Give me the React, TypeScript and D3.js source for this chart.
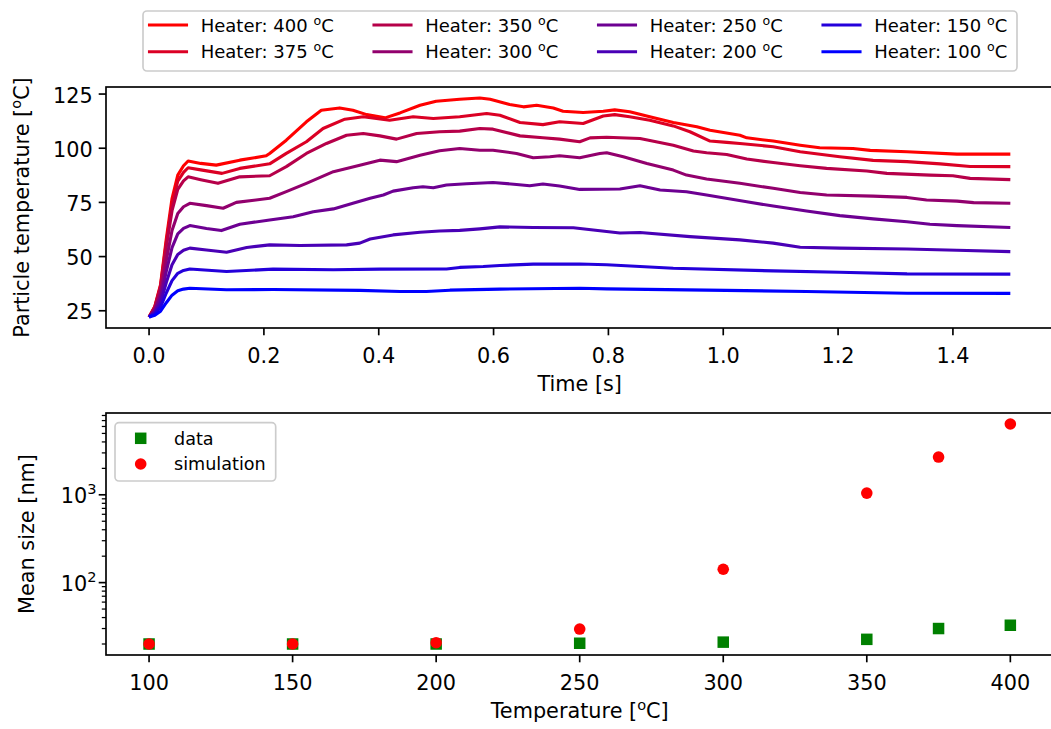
import React from 'react';
import * as d3 from 'd3';

type Pt = [number, number];

const heaterLabels = ['400', '375', '350', '300', '250', '200', '150', '100'];
const heaterColors = ['#ff0000', '#db0024', '#b60049', '#92006d', '#6d0092', '#4900b6', '#2400db', '#0000ff'];

const heater400: Pt[] = [[0,22.1],[0.01,27.0],[0.02,37.1],[0.03,58.1],[0.04,76.8],[0.05,87.6],[0.06,91.9],[0.068,94.1],[0.09,93.0],[0.117,92.2],[0.158,94.5],[0.204,96.5],[0.21,97.6],[0.239,103.7],[0.274,112.2],[0.30,117.5],[0.332,118.6],[0.355,117.5],[0.379,115.5],[0.411,114.0],[0.437,116.3],[0.472,119.8],[0.50,121.7],[0.541,122.6],[0.576,123.2],[0.594,122.6],[0.628,120.2],[0.652,119.1],[0.675,119.8],[0.704,118.6],[0.721,117.1],[0.756,116.5],[0.791,117.1],[0.811,117.7],[0.837,116.8],[0.872,114.5],[0.913,111.9],[0.954,109.9],[0.977,108.3],[1.029,106.0],[1.041,104.8],[1.087,103.3],[1.134,101.4],[1.168,100.2],[1.226,99.9],[1.256,99.0],[1.32,98.4],[1.407,97.3],[1.5,97.3]];
const heater375: Pt[] = [[0,22.1],[0.01,26.8],[0.02,36.5],[0.03,56.5],[0.04,74.4],[0.05,84.8],[0.06,88.9],[0.068,91.0],[0.09,90.0],[0.127,88.4],[0.158,90.7],[0.21,92.8],[0.239,97.6],[0.274,103.0],[0.303,109.1],[0.341,113.4],[0.373,114.5],[0.419,112.9],[0.46,114.5],[0.495,113.7],[0.541,114.5],[0.588,116.0],[0.611,115.2],[0.646,111.9],[0.686,110.9],[0.715,112.2],[0.756,111.4],[0.791,114.9],[0.811,115.5],[0.837,114.5],[0.872,112.9],[0.913,110.3],[0.942,107.6],[0.977,103.3],[1.006,102.7],[1.029,102.2],[1.087,100.7],[1.134,98.4],[1.203,96.1],[1.261,94.4],[1.32,93.8],[1.378,92.8],[1.43,91.6],[1.5,91.5]];
const heater350: Pt[] = [[0,22.1],[0.01,26.5],[0.02,35.6],[0.03,54.4],[0.04,71.2],[0.05,81.0],[0.06,84.9],[0.068,86.8],[0.09,85.5],[0.12,83.8],[0.158,86.8],[0.21,87.3],[0.239,91.5],[0.274,97.6],[0.309,102.2],[0.344,106.0],[0.373,106.8],[0.402,105.7],[0.431,104.2],[0.466,106.8],[0.506,107.6],[0.541,107.9],[0.576,109.1],[0.599,108.8],[0.646,105.7],[0.686,104.8],[0.715,104.2],[0.75,103.0],[0.768,104.8],[0.797,105.1],[0.855,104.5],[0.913,101.4],[0.948,98.7],[0.971,97.9],[1.006,97.1],[1.041,95.0],[1.087,93.4],[1.134,91.9],[1.18,90.7],[1.25,89.5],[1.285,88.4],[1.36,87.6],[1.40,87.3],[1.43,86.1],[1.5,85.5]];
const heater300: Pt[] = [[0,22.1],[0.01,25.7],[0.02,33.0],[0.03,48.3],[0.04,62.0],[0.05,69.9],[0.06,73.0],[0.071,74.6],[0.10,73.5],[0.129,72.3],[0.152,75.0],[0.21,76.9],[0.239,80.0],[0.274,83.8],[0.321,89.2],[0.367,92.2],[0.402,94.5],[0.431,93.8],[0.472,96.8],[0.506,98.8],[0.541,99.9],[0.576,99.1],[0.599,99.1],[0.64,97.6],[0.669,95.6],[0.698,96.1],[0.715,96.5],[0.75,95.6],[0.785,97.6],[0.797,97.9],[0.826,96.1],[0.867,93.0],[0.913,89.9],[0.936,87.6],[0.971,85.8],[1.029,83.8],[1.087,81.5],[1.134,79.6],[1.18,78.4],[1.261,77.9],[1.32,77.3],[1.354,76.1],[1.407,75.6],[1.436,74.9],[1.5,74.6]];
const heater250: Pt[] = [[0,22.1],[0.01,25.0],[0.02,30.9],[0.03,43.2],[0.04,54.1],[0.05,60.5],[0.06,63.0],[0.071,64.3],[0.10,63.0],[0.126,62.0],[0.158,64.9],[0.21,66.9],[0.251,68.4],[0.286,70.7],[0.321,72.0],[0.355,74.6],[0.385,76.9],[0.408,78.4],[0.425,80.2],[0.46,81.8],[0.477,82.2],[0.495,81.8],[0.518,83.0],[0.553,83.6],[0.599,84.2],[0.64,83.3],[0.663,82.7],[0.686,83.5],[0.715,82.6],[0.75,81.0],[0.82,81.2],[0.855,82.7],[0.89,80.7],[0.936,79.9],[0.971,78.4],[1.041,75.3],[1.087,73.3],[1.145,71.0],[1.203,68.9],[1.261,67.4],[1.32,66.1],[1.36,64.9],[1.407,64.3],[1.5,63.4]];
const heater200: Pt[] = [[0,22.1],[0.01,24.2],[0.02,28.7],[0.03,38.0],[0.04,46.2],[0.05,51.0],[0.06,52.9],[0.071,53.9],[0.10,53.0],[0.135,52.0],[0.17,54.2],[0.21,55.4],[0.263,55.1],[0.344,55.4],[0.367,56.2],[0.385,58.1],[0.425,60.0],[0.472,61.2],[0.506,61.8],[0.541,62.1],[0.576,62.8],[0.611,63.7],[0.669,63.4],[0.739,63.3],[0.82,60.9],[0.855,61.1],[0.942,59.2],[1.029,57.7],[1.087,56.2],[1.134,54.3],[1.203,53.9],[1.32,53.5],[1.407,52.9],[1.5,52.3]];
const heater150: Pt[] = [[0,22.1],[0.01,23.6],[0.02,26.7],[0.03,33.2],[0.04,38.9],[0.05,42.3],[0.06,43.6],[0.071,44.3],[0.135,43.1],[0.216,44.2],[0.321,43.9],[0.402,44.2],[0.518,44.3],[0.541,45.0],[0.582,45.4],[0.611,45.9],[0.669,46.5],[0.75,46.6],[0.797,46.2],[0.913,44.6],[1.087,43.4],[1.203,42.8],[1.32,42.0],[1.5,41.9]];
const heater100: Pt[] = [[0,22.1],[0.01,22.9],[0.02,24.8],[0.03,28.7],[0.04,32.2],[0.05,34.2],[0.06,35.0],[0.071,35.4],[0.135,34.7],[0.216,34.8],[0.367,34.4],[0.437,33.9],[0.483,33.9],[0.524,34.5],[0.611,35.0],[0.75,35.4],[0.797,35.1],[0.971,34.5],[1.145,33.9],[1.32,33.1],[1.5,33.0]];

const heaterSeries = [heater400, heater375, heater350, heater300, heater250, heater200, heater150, heater100];

const timeTicks = [0, 0.2, 0.4, 0.6, 0.8, 1.0, 1.2, 1.4];
const tempTicks = [25, 50, 75, 100, 125];

const temps = [100, 150, 200, 250, 300, 350, 375, 400];
const dataSize = [20, 20, 20, 20.4, 21, 22.6, 30, 32.7];
const simSize = [20, 20, 20.7, 29.6, 142, 1045, 2690, 6400];
const heaterTicks = [100, 150, 200, 250, 300, 350, 400];
const sizeMajorTicks = [100, 1000];
const sizeMajorExp = ['2', '3'];

const FONT = 'DejaVu Sans';
const FS = 20.8;
const LFS = 18;
const SW = 1.67;
const TL = 7.3;

const L = 106, R = 1053.4;
const T1 = 87, B1 = 328;
const T2 = 413, B2 = 655;

export default function App() {
  // top panel scales
  const allT = heaterSeries.flat().map((p) => p[0]);
  const allV = heaterSeries.flat().map((p) => p[1]);
  const tMin = d3.min(allT)!, tMax = d3.max(allT)!;
  const vMin = d3.min(allV)!, vMax = d3.max(allV)!;
  const tPad = (tMax - tMin) * 0.05, vPad = (vMax - vMin) * 0.05;
  const x1 = d3.scaleLinear().domain([tMin - tPad, tMax + tPad]).range([L, R]);
  const y1 = d3.scaleLinear().domain([vMin - vPad, vMax + vPad]).range([B1, T1]);
  const line = d3.line<Pt>().x((d) => x1(d[0])).y((d) => y1(d[1]));

  // bottom panel scales
  const allS = [...dataSize, ...simSize];
  const lmin = Math.log10(d3.min(allS)!), lmax = Math.log10(d3.max(allS)!);
  const lpad = (lmax - lmin) * 0.05;
  const xMin = d3.min(temps)!, xMax = d3.max(temps)!;
  const xPad = (xMax - xMin) * 0.05;
  const x2 = d3.scaleLinear().domain([xMin - xPad, xMax + xPad]).range([L, R]);
  const y2 = d3.scaleLog().domain([Math.pow(10, lmin - lpad), Math.pow(10, lmax + lpad)]).range([B2, T2]);
  const [d0, d1] = y2.domain();
  const minorTicks: number[] = [];
  for (let e = 0; e < 5; e++) {
    for (let k = 2; k <= 9; k++) {
      const v = k * Math.pow(10, e);
      if (v >= d0 && v <= d1) minorTicks.push(v);
    }
  }

  const legendCols = [148, 372.5, 597, 821.5];
  const legendRows = [25, 51.7];
  const midX = (L + R) / 2;

  return (
    <svg width={1051} height={729} style={{ position: 'absolute', left: 0, top: 0, background: '#fff' }} fontFamily={FONT}>
      <rect x={0} y={0} width={1051} height={729} fill="#fff" />
      {/* ---------- Top panel ---------- */}
      <g>
        {heaterSeries.map((s, i) => (
          <path key={i} d={line(s)!} fill="none" stroke={heaterColors[i]} strokeWidth={3.1} strokeLinejoin="round" strokeLinecap="butt" />
        ))}
        <rect x={L} y={T1} width={R - L} height={B1 - T1} fill="none" stroke="#000" strokeWidth={SW} />
        {timeTicks.map((t) => (
          <g key={t}>
            <line x1={x1(t)} x2={x1(t)} y1={B1} y2={B1 + TL} stroke="#000" strokeWidth={SW} />
            <text x={x1(t)} y={B1 + 34.5} textAnchor="middle" fontSize={FS}>{t.toFixed(1)}</text>
          </g>
        ))}
        {tempTicks.map((v) => (
          <g key={v}>
            <line x1={L - TL} x2={L} y1={y1(v)} y2={y1(v)} stroke="#000" strokeWidth={SW} />
            <text x={L - TL - 6} y={y1(v) + 8.6} textAnchor="end" fontSize={FS}>{v}</text>
          </g>
        ))}
        <text x={midX} y={391} textAnchor="middle" fontSize={FS}>Time [s]</text>
        <text transform={`translate(28.5,${(T1 + B1) / 2}) rotate(-90)`} textAnchor="middle" fontSize={FS}>
          Particle temperature [<tspan fontSize={FS * 0.7} dy={-8}>o</tspan><tspan dy={8}>C]</tspan>
        </text>
      </g>

      {/* ---------- Top legend ---------- */}
      <g>
        <rect x={143} y={11} width={874} height={60} rx={4} fill="#fff" fillOpacity={0.8} stroke="#cccccc" strokeWidth={SW} />
        {heaterLabels.map((lab, i) => {
          const cx = legendCols[Math.floor(i / 2)];
          const cy = legendRows[i % 2];
          return (
            <g key={lab}>
              <line x1={cx + 1.5} x2={cx + 38.5} y1={cy} y2={cy} stroke={heaterColors[i]} strokeWidth={3.1} strokeLinecap="square" />
              <text x={cx + 52.7} y={cy + 6.6} fontSize={LFS}>
                {`Heater: ${lab} `}<tspan fontSize={LFS * 0.7} dy={-7}>o</tspan><tspan dy={7}>C</tspan>
              </text>
            </g>
          );
        })}
      </g>

      {/* ---------- Bottom panel ---------- */}
      <g>
        {temps.map((t, i) => (
          <rect key={'d' + t} x={x2(t) - 5.75} y={y2(dataSize[i]) - 5.75} width={11.5} height={11.5} fill="#008000" />
        ))}
        {temps.map((t, i) => (
          <circle key={'s' + t} cx={x2(t)} cy={y2(simSize[i])} r={5.8} fill="#ff0000" />
        ))}
        <rect x={L} y={T2} width={R - L} height={B2 - T2} fill="none" stroke="#000" strokeWidth={SW} />
        {heaterTicks.map((t) => (
          <g key={t}>
            <line x1={x2(t)} x2={x2(t)} y1={B2} y2={B2 + TL} stroke="#000" strokeWidth={SW} />
            <text x={x2(t)} y={B2 + 34.5} textAnchor="middle" fontSize={FS}>{t}</text>
          </g>
        ))}
        {minorTicks.map((v) => (
          <line key={v} x1={L - 4.2} x2={L} y1={y2(v)} y2={y2(v)} stroke="#000" strokeWidth={1.25} />
        ))}
        {sizeMajorTicks.map((v, i) => (
          <g key={v}>
            <line x1={L - TL} x2={L} y1={y2(v)} y2={y2(v)} stroke="#000" strokeWidth={SW} />
            <text x={96.5} y={y2(v) + 8.3} textAnchor="end" fontSize={FS}>
              10<tspan fontSize={FS * 0.7} dy={-9}>{sizeMajorExp[i]}</tspan>
            </text>
          </g>
        ))}
        <text x={midX} y={718} textAnchor="middle" fontSize={FS}>
          Temperature [<tspan fontSize={FS * 0.7} dy={-8}>o</tspan><tspan dy={8}>C]</tspan>
        </text>
        <text transform={`translate(33.5,${(T2 + B2) / 2}) rotate(-90)`} textAnchor="middle" fontSize={FS}>Mean size [nm]</text>
      </g>

      {/* ---------- Bottom legend ---------- */}
      <g>
        <rect x={115} y={422.7} width={160.7} height={58.3} rx={4} fill="#fff" fillOpacity={0.8} stroke="#cccccc" strokeWidth={SW} />
        <rect x={140.7 - 5.75} y={438.3 - 5.75} width={11.5} height={11.5} fill="#008000" />
        <text x={174} y={438.3 + 6.4} fontSize={17.6}>data</text>
        <circle cx={140.7} cy={464} r={5.8} fill="#ff0000" />
        <text x={174} y={464 + 6.4} fontSize={17.6}>simulation</text>
      </g>
    </svg>
  );
}
